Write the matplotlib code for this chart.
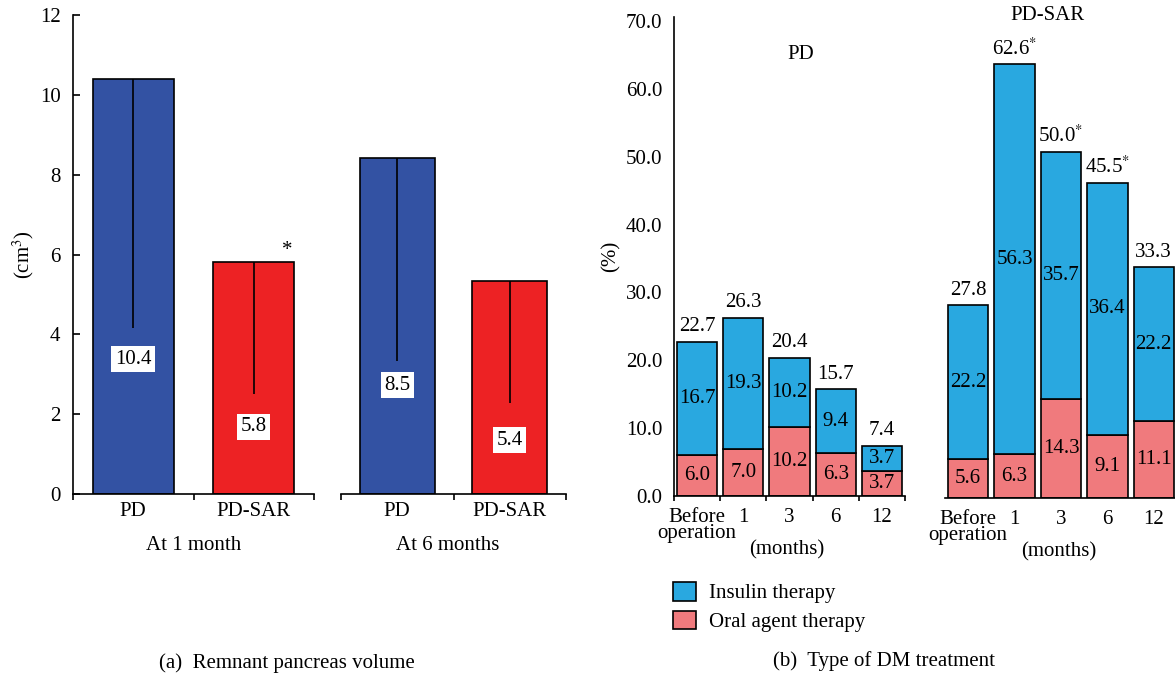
import numpy as np
import matplotlib.pyplot as plt
from matplotlib.patches import Patch

plt.rcParams['font.family'] = ['Liberation Serif', 'DejaVu Serif']
plt.rcParams['mathtext.fontset'] = 'stix'
plt.rcParams['font.size'] = 15

# (a) remnant pancreas volume
vol_groups = ['At 1 month', 'At 6 months']
vol_cats = ['PD', 'PD-SAR']
vol_height = [[10.4, 5.8], [8.43, 5.33]]
vol_sd = [[6.25, 3.3], [5.1, 3.05]]
vol_text = [['10.4', '5.8'], ['8.5', '5.4']]
vol_label_y = [[3.38, 1.68], [2.73, 1.35]]
vol_colors = ['#3352a3', '#ed2224']

# (b) type of DM treatment (%)
months = ['Before\noperation', '1', '3', '6', '12']
pd_oral = [6.0, 7.0, 10.2, 6.3, 3.7]
pd_insulin = [16.7, 19.3, 10.2, 9.4, 3.7]
sar_oral = [5.6, 6.3, 14.3, 9.1, 11.1]
sar_insulin = [22.2, 56.3, 35.7, 36.4, 22.2]
pd_sig = [False] * 5
sar_sig = [False, True, True, True, False]
c_insulin = '#29a8e0'
c_oral = '#f07a7d'

W, H = 1175, 678
fig = plt.figure(figsize=(W / 100, H / 100), dpi=100)


def px_axes(x0, x1, yb, yt):
    return fig.add_axes([x0 / W, 1 - yb / H, (x1 - x0) / W, (yb - yt) / H])


ax_a1 = px_axes(73, 314, 494, 15)
ax_a2 = px_axes(341, 566, 494, 15)

for i, ax in enumerate([ax_a1, ax_a2]):
    x = np.arange(2) + 0.5
    ax.bar(x, vol_height[i], width=0.67, color=vol_colors, edgecolor='black', lw=1.2, zorder=2)
    ax.errorbar(x, vol_height[i], yerr=[vol_sd[i], [0, 0]], fmt='none', ecolor='black',
                elinewidth=1.2, capsize=0, zorder=3)
    for xi, yi, t in zip(x, vol_label_y[i], vol_text[i]):
        ax.text(xi, yi, t, ha='center', va='center', zorder=4,
                bbox=dict(fc='white', ec='none', pad=2.5))
    ax.set_xlim(0, 2)
    ax.set_ylim(0, 12)
    ax.set_xticks([0, 1, 2])
    ax.set_xticklabels([])
    ax.set_xticks(x, minor=True)
    ax.set_xticklabels(vol_cats, minor=True)
    ax.tick_params(axis='x', which='major', direction='out', length=4, width=1.2)
    ax.tick_params(axis='x', which='minor', length=0, pad=6)
    for s in ['top', 'right']:
        ax.spines[s].set_visible(False)
    ax.spines['bottom'].set_linewidth(1.2)
    ax.text(1.0 if i == 0 else 0.95, -0.108, vol_groups[i], transform=ax.get_xaxis_transform(),
            ha='center', va='center')

ax_a1.set_yticks(range(0, 13, 2))
ax_a1.tick_params(axis='y', direction='in', length=5, width=1.2, pad=9)
ax_a1.spines['left'].set_linewidth(1.2)
ax_a1.set_ylabel('(cm$^3$)', labelpad=3)
ax_a1.annotate('*', (1.78, vol_height[0][1]), xytext=(0, 2), textcoords='offset points',
               ha='center', va='bottom')
ax_a2.spines['left'].set_visible(False)
ax_a2.set_yticks([])

# (b)
ax_b1 = px_axes(674, 905, 496, 17)
ax_b2 = px_axes(945, 1177, 498, 13)

for ax, oral, ins, sig in [(ax_b1, pd_oral, pd_insulin, pd_sig),
                           (ax_b2, sar_oral, sar_insulin, sar_sig)]:
    x = np.arange(5) + 0.5
    oral = np.array(oral)
    ins = np.array(ins)
    ax.bar(x, oral, 0.87, color=c_oral, edgecolor='black', lw=1.2, zorder=2)
    ax.bar(x, ins, 0.87, bottom=oral, color=c_insulin, edgecolor='black', lw=1.2, zorder=2)
    for xi, o, n, s in zip(x, oral, ins, sig):
        ax.text(xi, o / 2, f'{o:.1f}', ha='center', va='center', zorder=4)
        ax.text(xi, o + n / 2, f'{n:.1f}', ha='center', va='center', zorder=4)
        lab = f'{o + n:.1f}' + ('$^{*}$' if s else '')
        ax.annotate(lab, (xi, o + n), xytext=(0, 11), textcoords='offset points',
                    ha='center', va='center')
    ax.set_xlim(0, 5)
    ax.set_xticks(range(6))
    ax.set_xticklabels([])
    ax.set_xticks(x, minor=True)
    ax.set_xticklabels(months, minor=True, linespacing=0.75)
    ax.tick_params(axis='x', which='major', direction='out', length=3.5, width=1.2)
    ax.tick_params(axis='x', which='minor', length=0, pad=9)
    for s in ['top', 'right']:
        ax.spines[s].set_visible(False)
    ax.spines['bottom'].set_linewidth(1.2)
    ax.text(2.45, -0.112, '(months)', transform=ax.get_xaxis_transform(), ha='center', va='center')

ax_b1.set_ylim(0, 70.6)
ax_b1.set_yticks(range(0, 71, 10))
ax_b1.set_yticklabels([f'{v:.1f}' for v in range(0, 71, 10)])
ax_b1.tick_params(axis='y', length=0, pad=8.5)
ax_b1.spines['left'].set_linewidth(1.2)
ax_b1.set_ylabel('(%)', labelpad=4)
ax_b1.text(2.74, 65.0, 'PD', ha='center', va='center')

ax_b2.set_ylim(0, 70)
ax_b2.spines['left'].set_visible(False)
ax_b2.set_yticks([])
ax_b2.tick_params(axis='x', which='major', length=0)
ax_b2.text(2.2, 69.7, 'PD-SAR', ha='center', va='center')

fig.legend(handles=[Patch(fc=c_insulin, ec='black', lw=1.2), Patch(fc=c_oral, ec='black', lw=1.2)],
           labels=['Insulin therapy', 'Oral agent therapy'], loc='upper left',
           bbox_to_anchor=(673 / W, 1 - 582 / H), frameon=False, handlelength=1.1,
           handleheight=1.0, handletextpad=0.65, labelspacing=0.35, borderpad=0, borderaxespad=0)

fig.text(287 / W, 1 - 663 / H, '(a)  Remnant pancreas volume', ha='center', va='center')
fig.text(884 / W, 1 - 661 / H, '(b)  Type of DM treatment', ha='center', va='center')

fig.savefig('out.png', dpi=100)
